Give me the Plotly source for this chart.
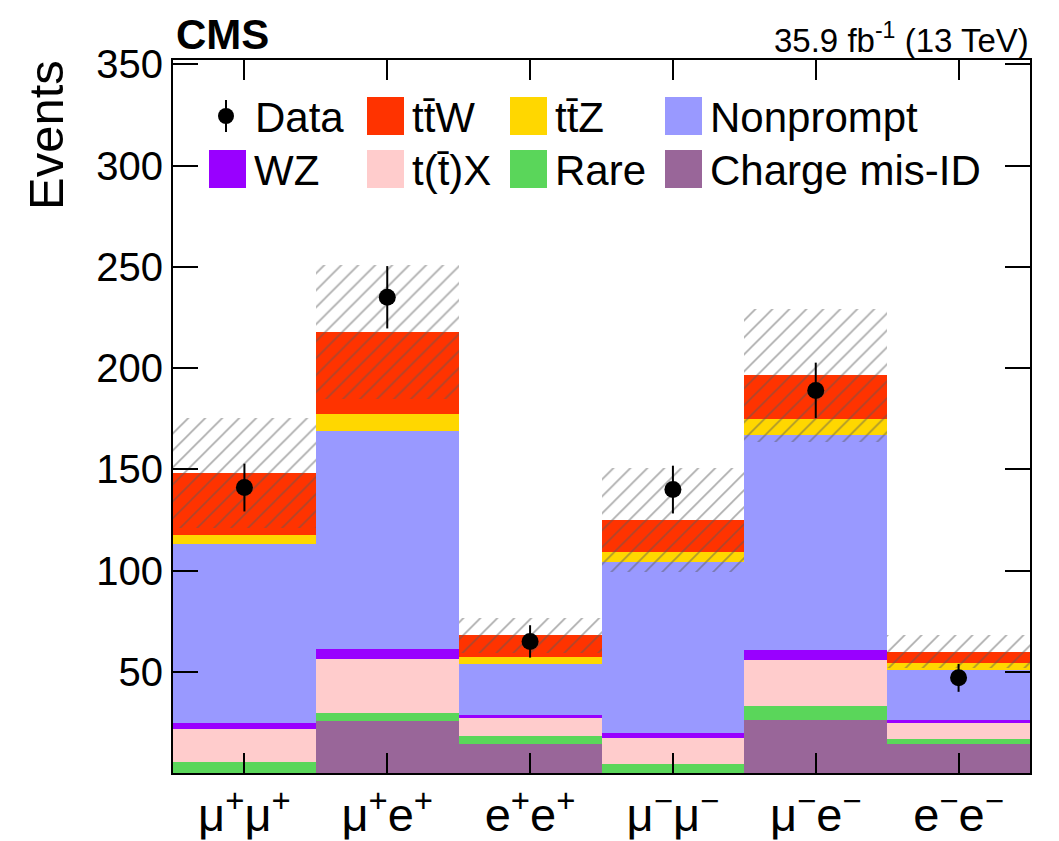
import numpy as np
import plotly.graph_objects as go

# Signal-region categories (lepton flavour and charge)
categories = ["μ<sup>+</sup>μ<sup>+</sup>", "μ<sup>+</sup>e<sup>+</sup>", "e<sup>+</sup>e<sup>+</sup>",
              "μ<sup>−</sup>μ<sup>−</sup>", "μ<sup>−</sup>e<sup>−</sup>", "e<sup>−</sup>e<sup>−</sup>"]

# Expected yields per process (stacked bottom to top)
charge_misid = [0.0, 25.6, 14.3, 0.0, 26.1, 14.4]
rare         = [5.5, 3.8, 3.9, 4.4, 6.9, 2.3]
ttx          = [16.2, 27.0, 9.1, 13.0, 22.8, 8.1]
wz           = [2.9, 5.1, 1.3, 2.6, 4.8, 1.3]
nonprompt    = [88.5, 107.4, 25.4, 84.4, 106.4, 24.9]
ttz          = [4.4, 8.4, 3.3, 4.7, 7.9, 3.1]
ttw          = [30.5, 40.5, 10.8, 15.9, 21.5, 5.8]

# Total background uncertainty (symmetric)
total_unc = [27.2, 33.2, 8.6, 25.8, 33.0, 8.2]

# Observed events and their statistical errors
data_obs = [141, 235, 65, 140, 189, 47]
data_err = [11.8, 15.4, 8.0, 11.8, 13.7, 6.9]

processes = [
    ("Charge mis-ID", charge_misid, "#996699"),
    ("Rare", rare, "#5ad65a"),
    ("t(t\u0304)X", ttx, "#ffcccc"),
    ("WZ", wz, "#9900ff"),
    ("Nonprompt", nonprompt, "#9999ff"),
    ("tt\u0304Z", ttz, "#ffd700"),
    ("tt\u0304W", ttw, "#ff3300"),
]

FONT = "Liberation Sans, Arial, Helvetica, sans-serif"
xpos = np.arange(len(categories))

fig = go.Figure()

base = np.zeros(len(categories))
for name, vals, col in processes:
    vals = np.asarray(vals, dtype=float)
    fig.add_trace(go.Bar(
        x=xpos, y=vals, base=base, width=1.0, name=name,
        marker=dict(color=col, line=dict(width=0)),
        showlegend=False,
    ))
    base = base + vals

total = base
unc = np.asarray(total_unc, dtype=float)
fig.add_trace(go.Bar(
    x=xpos, y=2 * unc, base=total - unc, width=1.0, name="Uncertainty",
    marker=dict(color="rgba(0,0,0,0)", line=dict(width=0),
                pattern=dict(shape="/", fgcolor="#5a5a5a", bgcolor="rgba(0,0,0,0)",
                             size=12, solidity=0.14)),
    showlegend=False,
))

fig.add_trace(go.Scatter(
    x=xpos, y=data_obs, mode="markers", name="Data",
    marker=dict(color="black", size=17),
    error_y=dict(type="data", array=data_err, color="black", thickness=2, width=0),
    showlegend=False,
))

# Plot-area geometry in pixels, used for the hand-placed legend
W, H = 1059, 841
L, R, T, B = 173, 1030, 60, 773


def px(x):
    return (x - L) / (R - L)


def py(y):
    return (B - y) / (B - T)


shapes = []
annotations = []

legend_entries = [
    ("Data", None, 226, 116),
    ("tt\u0304W", "#ff3300", 367, 116),
    ("tt\u0304Z", "#ffd700", 510, 116),
    ("Nonprompt", "#9999ff", 665, 116),
    ("WZ", "#9900ff", 209, 169),
    ("t(t\u0304)X", "#ffcccc", 367, 169),
    ("Rare", "#5ad65a", 510, 169),
    ("Charge mis-ID", "#996699", 665, 169),
]
for label, col, x0, yc in legend_entries:
    if col is None:
        shapes.append(dict(type="line", xref="paper", yref="paper",
                           x0=px(x0), x1=px(x0), y0=py(yc - 16), y1=py(yc + 16),
                           line=dict(color="black", width=2)))
        shapes.append(dict(type="circle", xref="paper", yref="paper",
                           x0=px(x0 - 8), x1=px(x0 + 8), y0=py(yc - 8), y1=py(yc + 8),
                           fillcolor="black", line=dict(color="black", width=0)))
        tx = 253
    else:
        shapes.append(dict(type="rect", xref="paper", yref="paper",
                           x0=px(x0), x1=px(x0 + 37), y0=py(yc - 19), y1=py(yc + 19),
                           fillcolor=col, line=dict(width=0)))
        tx = x0 + 43
    annotations.append(dict(text=label, xref="paper", yref="paper", x=px(tx), y=py(yc + 1),
                            xanchor="left", yanchor="middle", showarrow=False,
                            font=dict(family=FONT, size=42, color="black")))

annotations.append(dict(text="<b>CMS</b>", xref="paper", yref="paper", x=px(174), y=py(35),
                        xanchor="left", yanchor="middle", showarrow=False,
                        font=dict(family=FONT, size=42, color="black")))
annotations.append(dict(text="35.9 fb<sup>-1</sup> (13 TeV)", xref="paper", yref="paper",
                        x=px(1031), y=py(38), xanchor="right", yanchor="middle", showarrow=False,
                        font=dict(family=FONT, size=33, color="black")))
annotations.append(dict(text="Events", xref="paper", yref="paper", x=px(46), y=py(58),
                        xanchor="center", yanchor="top", textangle=-90, showarrow=False,
                        font=dict(family=FONT, size=49, color="black")))

fig.update_layout(
    width=W, height=H,
    margin=dict(l=L, r=W - R, t=T, b=H - B, pad=0, autoexpand=False),
    paper_bgcolor="white", plot_bgcolor="white",
    barmode="overlay", bargap=0,
    shapes=shapes, annotations=annotations,
    font=dict(family=FONT, color="black"),
    showlegend=False,
)
fig.update_xaxes(
    range=[-0.5, 5.5], tickmode="array", tickvals=xpos, ticktext=categories,
    ticks="inside", ticklen=20, tickwidth=2, tickcolor="black",
    showline=True, linewidth=2, linecolor="black", mirror="allticks",
    showgrid=False, zeroline=False, automargin=False,
    tickfont=dict(family=FONT, size=47, color="black"),
)
fig.update_yaxes(
    range=[0, 352.2], tickmode="array", tickvals=[50, 100, 150, 200, 250, 300, 350],
    ticks="inside", ticklen=25, tickwidth=2, tickcolor="black",
    showline=True, linewidth=2, linecolor="black", mirror="allticks",
    showgrid=False, zeroline=False, automargin=False,
    tickfont=dict(family=FONT, size=40, color="black"),
)

fig.write_html("out.html")
